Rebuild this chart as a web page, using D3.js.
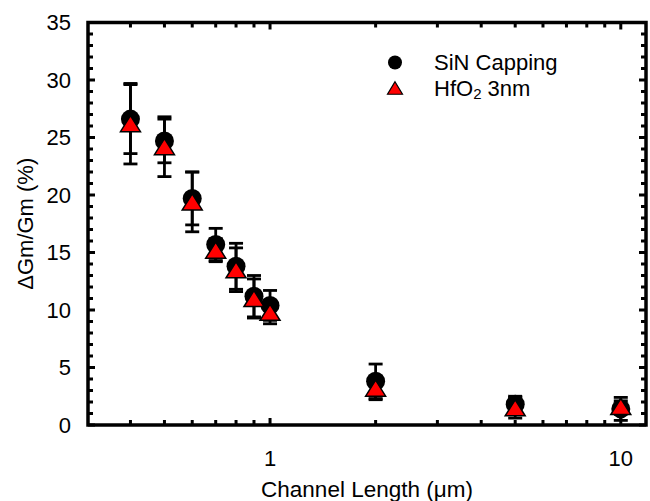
<!DOCTYPE html>
<html>
<head>
<meta charset="utf-8">
<script src="https://cdn.jsdelivr.net/npm/d3@7"></script>
<style>
  html, body { margin: 0; padding: 0; background: #fff; }
  svg { display: block; font-family: "Liberation Sans", Arial, Helvetica, sans-serif; }
</style>
</head>
<body>
<svg id="chart" width="650" height="501"></svg>
<script>
// Channel lengths (µm)
const channelLength = [0.4, 0.5, 0.6, 0.7, 0.8, 0.9, 1, 2, 5, 10];
// ΔGm/Gm (%) with error half-widths
const sinValues = [26.6, 24.7, 19.7, 15.7, 13.8, 11.2, 10.4, 3.8, 1.8, 1.4];
const sinErr    = [3.0, 1.9, 2.3, 1.4, 2.0, 1.8, 1.3, 1.5, 0.7, 1.0];
const hfValues  = [26.2, 24.2, 19.4, 15.2, 13.5, 11.0, 9.8, 3.2, 1.5, 1.6];
const hfErr     = [3.5, 2.6, 2.6, 1.0, 1.9, 1.7, 1.0, 1.0, 0.9, 0.5];
const seriesNames = ["SiN Capping", "HfO2 3nm"];
const yMajorTicks = [0, 5, 10, 15, 20, 25, 30, 35];
const xMajorTicks = [1, 10];
const xMinorTicks = [0.4, 0.5, 0.6, 0.7, 0.8, 0.9, 2, 3, 4, 5, 6, 7, 8, 9];

const svg = d3.select("#chart");
const plotLeft = 88, plotRight = 646, plotTop = 22.5, plotBottom = 425;

const x = d3.scaleLog().domain([0.3027, 11.8]).range([plotLeft, plotRight]);
const y = d3.scaleLinear().domain([0, 35]).range([plotBottom, plotTop]);

const yMinorTicks = d3.range(0, 36, 1).filter(v => v % 5 !== 0);

const axisG = svg.append("g");
const tickW = 3;
// left / right ticks
const drawYTicks = (vals, len) => {
  vals.forEach(v => {
    axisG.append("line").attr("x1", plotLeft).attr("x2", plotLeft + len)
      .attr("y1", y(v)).attr("y2", y(v)).attr("stroke", "#000").attr("stroke-width", tickW);
    axisG.append("line").attr("x1", plotRight).attr("x2", plotRight - len)
      .attr("y1", y(v)).attr("y2", y(v)).attr("stroke", "#000").attr("stroke-width", tickW);
  });
};
drawYTicks(yMajorTicks, 7);
drawYTicks(yMinorTicks, 5);
// bottom / top ticks
const drawXTicks = (vals, len) => {
  vals.forEach(v => {
    axisG.append("line").attr("x1", x(v)).attr("x2", x(v))
      .attr("y1", plotBottom).attr("y2", plotBottom - len).attr("stroke", "#000").attr("stroke-width", tickW);
    axisG.append("line").attr("x1", x(v)).attr("x2", x(v))
      .attr("y1", plotTop).attr("y2", plotTop + len).attr("stroke", "#000").attr("stroke-width", tickW);
  });
};
drawXTicks(xMajorTicks, 7);
drawXTicks(xMinorTicks, 5);

// frame
axisG.append("rect").attr("x", plotLeft).attr("y", plotTop)
  .attr("width", plotRight - plotLeft).attr("height", plotBottom - plotTop)
  .attr("fill", "none").attr("stroke", "#000").attr("stroke-width", 3.5);

// tick labels
svg.append("g").selectAll("text").data(yMajorTicks).join("text")
  .attr("x", plotLeft - 17).attr("y", d => y(d)).attr("dy", "0.36em")
  .attr("text-anchor", "end").attr("font-size", 22).text(d => d);
svg.append("g").selectAll("text").data(xMajorTicks).join("text")
  .attr("x", d => x(d)).attr("y", 465.5)
  .attr("text-anchor", "middle").attr("font-size", 22).text(d => d);

// axis titles
svg.append("text").attr("x", (plotLeft + plotRight) / 2).attr("y", 497)
  .attr("text-anchor", "middle").attr("font-size", 22.5).text("Channel Length (μm)");
svg.append("text").attr("transform", `translate(33,${(plotTop + plotBottom) / 2}) rotate(-90)`)
  .attr("text-anchor", "middle").attr("font-size", 22).text("ΔGm/Gm (%)");

const tri = (w, h) => `M0,${-h / 2}L${w / 2},${h / 2}L${-w / 2},${h / 2}Z`;

function errorBars(vals, errs) {
  const g = svg.append("g").attr("stroke", "#000").attr("stroke-width", 2.8);
  channelLength.forEach((c, i) => {
    const cx = x(c), y1 = y(vals[i] + errs[i]), y2 = y(vals[i] - errs[i]);
    g.append("line").attr("x1", cx).attr("x2", cx).attr("y1", y1).attr("y2", y2);
    g.append("line").attr("x1", cx - 7).attr("x2", cx + 7).attr("y1", y1).attr("y2", y1);
    g.append("line").attr("x1", cx - 7).attr("x2", cx + 7).attr("y1", y2).attr("y2", y2);
  });
}
errorBars(sinValues, sinErr);
errorBars(hfValues, hfErr);

svg.append("g").selectAll("circle").data(sinValues).join("circle")
  .attr("cx", (d, i) => x(channelLength[i])).attr("cy", d => y(d))
  .attr("r", 9.5).attr("fill", "#000");
svg.append("g").selectAll("path").data(hfValues).join("path")
  .attr("transform", (d, i) => `translate(${x(channelLength[i])},${y(d)})`)
  .attr("d", tri(20, 16)).attr("fill", "#ff0000").attr("stroke", "#000").attr("stroke-width", 1.5)
  .attr("stroke-linejoin", "miter");

// legend
const lg = svg.append("g");
lg.append("circle").attr("cx", 395).attr("cy", 62.5).attr("r", 7).attr("fill", "#000");
lg.append("path").attr("transform", "translate(395,88)").attr("d", tri(15, 12.5))
  .attr("fill", "#ff0000").attr("stroke", "#000").attr("stroke-width", 1.2);
lg.append("text").attr("x", 434).attr("y", 69.5).attr("font-size", 22).text(seriesNames[0]);
const t2 = lg.append("text").attr("x", 434).attr("y", 95.5).attr("font-size", 22);
t2.append("tspan").text("HfO");
t2.append("tspan").attr("font-size", 15).attr("dy", 3).text("2");
t2.append("tspan").attr("dy", -3).text(" 3nm");
</script>
</body>
</html>
